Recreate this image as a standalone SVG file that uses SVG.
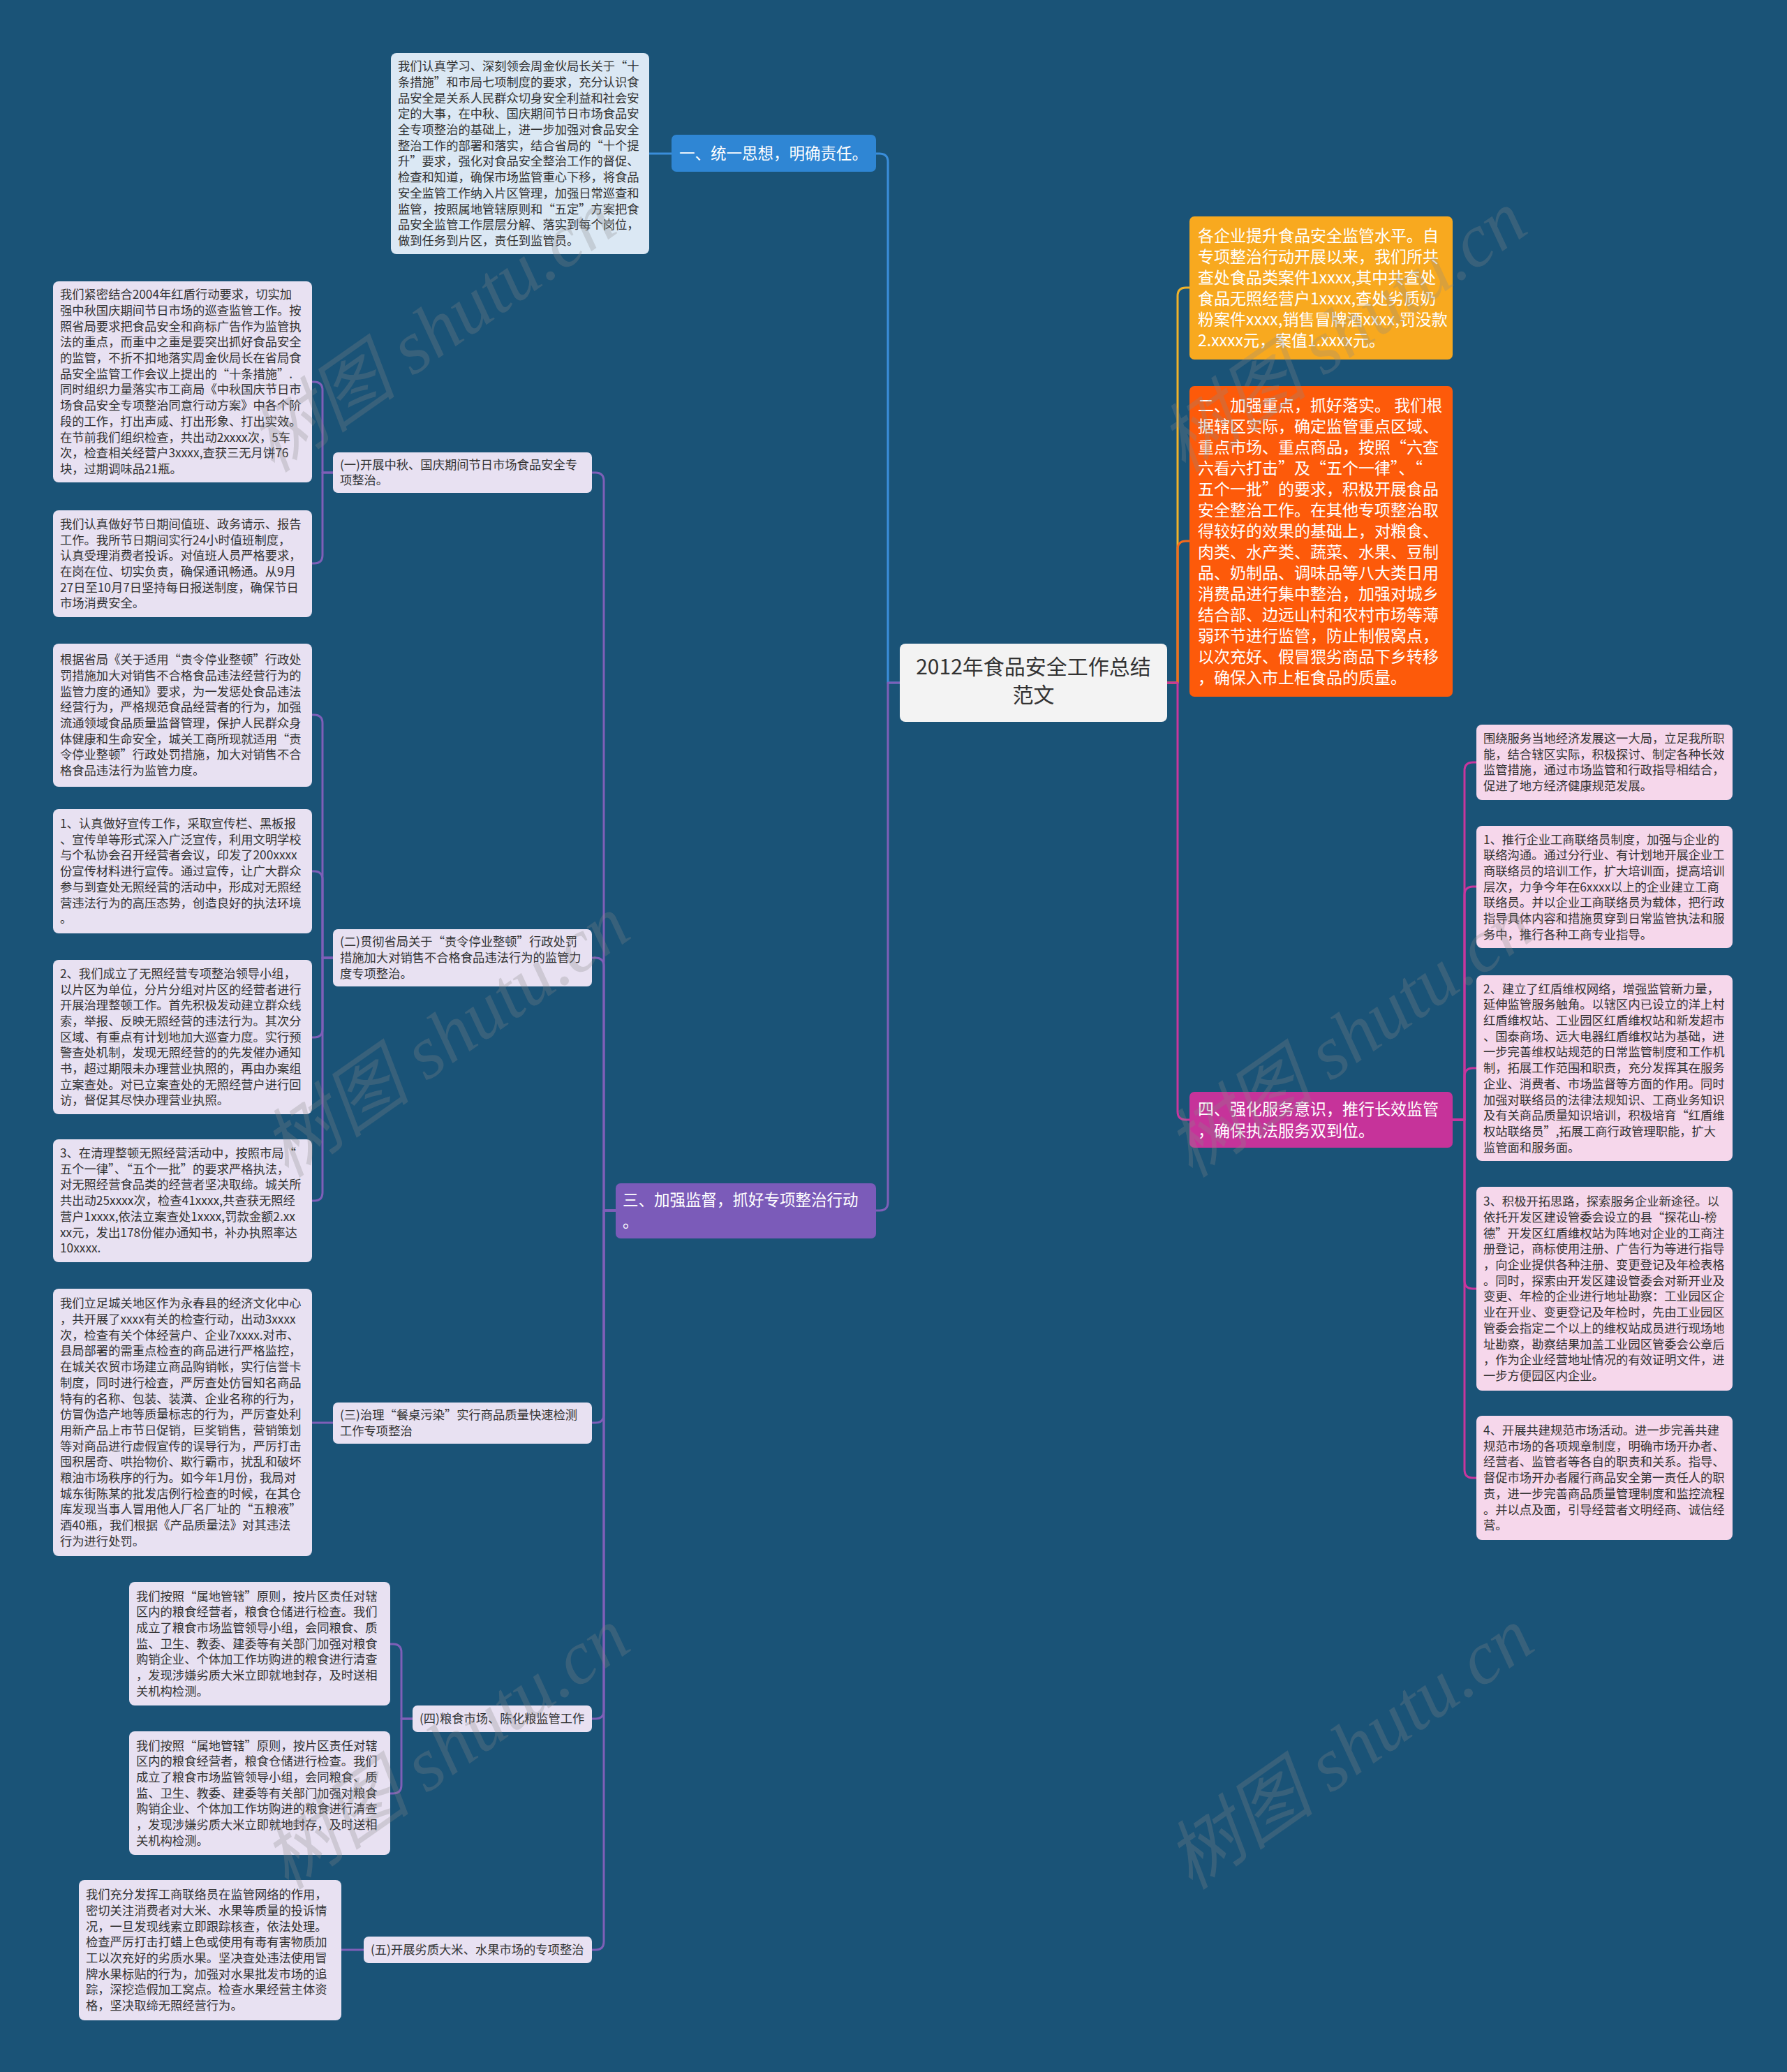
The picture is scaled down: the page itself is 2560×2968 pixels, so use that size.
<svg xmlns="http://www.w3.org/2000/svg" width="2560" height="2968" viewBox="0 0 2560 2968">
<style>
.t{font-family:"Noto Sans CJK SC","Noto Sans",sans-serif;}
.lf{font-size:17.3px;fill:#333333;}
.big{font-size:23px;fill:#ffffff;}
.mid{font-size:22.5px;fill:#ffffff;}
.root{font-size:30px;fill:#333333;}
.lav{fill:#e8e1f2;}
.pink{fill:#f6d7eb;}
.lblue{fill:#dbe8f4;}
.c{fill:none;stroke-width:3;stroke-linejoin:round;}
.cb{stroke:#3a8edb;}
.cp{stroke:#7e5fb8;}
.cy{stroke:#f0b22a;}
.co{stroke:#f66a1c;}
.cm{stroke:#c8369e;}
.wm{font-family:"Liberation Serif","Noto Sans CJK SC",serif;font-style:italic;font-size:108px;fill:#8a8a8a;fill-opacity:0.28;}
</style>
<rect x="0" y="0" width="2560" height="2968" fill="#1a5377"/>
<g id="connectors">
<path class="c cb" d="M1289,978 H1272 V232 Q1272,220 1260,220 H1255"/>
<path class="c cb" d="M962,220 H930"/>
<path class="c cp" d="M1289,978 H1272 V1722 Q1272,1734 1260,1734 H1255"/>
<path class="c cy" d="M1672,978 H1687 V424 Q1687,412 1699,412 H1704"/>
<path class="c co" d="M1672,978 H1687 V787 Q1687,775 1699,775 H1704"/>
<path class="c cm" d="M1672,978 H1687 V1592 Q1687,1604 1699,1604 H1704"/>
<path class="c cm" d="M2081,1604 H2098 V1104 Q2098,1092 2110,1092 H2115"/>
<path class="c cm" d="M2081,1604 H2098 V1282 Q2098,1270 2110,1270 H2115"/>
<path class="c cm" d="M2081,1604 H2098 V1542 Q2098,1530 2110,1530 H2115"/>
<path class="c cm" d="M2081,1604 H2098 V1834 Q2098,1846 2110,1846 H2115"/>
<path class="c cm" d="M2081,1604 H2098 V2105 Q2098,2117 2110,2117 H2115"/>
<path class="c cp" d="M882,1734 H865 V689 Q865,677 853,677 H848"/>
<path class="c cp" d="M882,1734 H865 V1384 Q865,1372 853,1372 H848"/>
<path class="c cp" d="M882,1734 H865 V2026 Q865,2038 853,2038 H848"/>
<path class="c cp" d="M882,1734 H865 V2450 Q865,2462 853,2462 H848"/>
<path class="c cp" d="M882,1734 H865 V2781 Q865,2793 853,2793 H848"/>
<path class="c cp" d="M477,677 H462 V559 Q462,547 450,547 H447"/>
<path class="c cp" d="M477,677 H462 V795 Q462,807 450,807 H447"/>
<path class="c cp" d="M477,1372 H462 V1036 Q462,1024 450,1024 H447"/>
<path class="c cp" d="M477,1372 H462 V1260 Q462,1248 450,1248 H447"/>
<path class="c cp" d="M477,1372 H462 V1474 Q462,1486 450,1486 H447"/>
<path class="c cp" d="M477,1372 H462 V1708 Q462,1720 450,1720 H447"/>
<path class="c cp" d="M477,2038 H447"/>
<path class="c cp" d="M591,2462 H575 V2367 Q575,2355 563,2355 H559"/>
<path class="c cp" d="M591,2462 H575 V2557 Q575,2569 563,2569 H559"/>
<path class="c cp" d="M521,2793 H489"/>
</g>
<g id="root">
<rect x="1289" y="922" width="383" height="112" rx="8" fill="#f3f3f3"/>
<text class="t root" text-anchor="middle"><tspan x="1480.5" y="966">2012年食品安全工作总结</tspan><tspan x="1480.5" y="1006">范文</tspan></text>
</g>
<g id="n1">
<rect x="962" y="193" width="293" height="53" rx="7" fill="#2f86d4"/>
<text class="t mid" x="973" y="227.5">一、统一思想，明确责任。</text>
</g>
<g id="n1-1">
<rect x="560" y="76" width="370" height="288" rx="8" class="lblue"/>
<text class="t lf"><tspan x="570" y="101.2">我们认真学习、深刻领会周金伙局长关于“十</tspan><tspan x="570" dy="22.7">条措施”和市局七项制度的要求，充分认识食</tspan><tspan x="570" dy="22.7">品安全是关系人民群众切身安全利益和社会安</tspan><tspan x="570" dy="22.7">定的大事，在中秋、国庆期间节日市场食品安</tspan><tspan x="570" dy="22.7">全专项整治的基础上，进一步加强对食品安全</tspan><tspan x="570" dy="22.7">整治工作的部署和落实，结合省局的“十个提</tspan><tspan x="570" dy="22.7">升”要求，强化对食品安全整治工作的督促、</tspan><tspan x="570" dy="22.7">检查和知道，确保市场监管重心下移，将食品</tspan><tspan x="570" dy="22.7">安全监管工作纳入片区管理，加强日常巡查和</tspan><tspan x="570" dy="22.7">监管，按照属地管辖原则和“五定”方案把食</tspan><tspan x="570" dy="22.7">品安全监管工作层层分解、落实到每个岗位，</tspan><tspan x="570" dy="22.7">做到任务到片区，责任到监管员。</tspan></text>
</g>
<g id="n2">
<rect x="1704" y="310" width="377" height="205" rx="7" fill="#f8a91f"/>
<text class="t big"><tspan x="1716" y="345.6">各企业提升食品安全监管水平。自</tspan><tspan x="1716" dy="30">专项整治行动开展以来，我们所共</tspan><tspan x="1716" dy="30">查处食品类案件1xxxx,其中共查处</tspan><tspan x="1716" dy="30">食品无照经营户1xxxx,查处劣质奶</tspan><tspan x="1716" dy="30">粉案件xxxx,销售冒牌酒xxxx,罚没款</tspan><tspan x="1716" dy="30">2.xxxx元，案值1.xxxx元。</tspan></text>
</g>
<g id="n3">
<rect x="1704" y="553" width="377" height="445" rx="7" fill="#fd5a0a"/>
<text class="t big"><tspan x="1716" y="588.6">二、加强重点，抓好落实。 我们根</tspan><tspan x="1716" dy="30">据辖区实际，确定监管重点区域、</tspan><tspan x="1716" dy="30">重点市场、重点商品，按照“六查</tspan><tspan x="1716" dy="30">六看六打击”及“五个一律”、“</tspan><tspan x="1716" dy="30">五个一批”的要求，积极开展食品</tspan><tspan x="1716" dy="30">安全整治工作。在其他专项整治取</tspan><tspan x="1716" dy="30">得较好的效果的基础上，对粮食、</tspan><tspan x="1716" dy="30">肉类、水产类、蔬菜、水果、豆制</tspan><tspan x="1716" dy="30">品、奶制品、调味品等八大类日用</tspan><tspan x="1716" dy="30">消费品进行集中整治，加强对城乡</tspan><tspan x="1716" dy="30">结合部、边远山村和农村市场等薄</tspan><tspan x="1716" dy="30">弱环节进行监管，防止制假窝点，</tspan><tspan x="1716" dy="30">以次充好、假冒猥劣商品下乡转移</tspan><tspan x="1716" dy="30">，确保入市上柜食品的质量。</tspan></text>
</g>
<g id="n4">
<rect x="1704" y="1564" width="377" height="80" rx="7" fill="#c6339a"/>
<text class="t big"><tspan x="1716" y="1596.5">四、强化服务意识，推行长效监管</tspan><tspan x="1716" dy="31">，确保执法服务双到位。</tspan></text>
</g>
<g id="n4-0">
<rect x="2115" y="1038" width="367" height="108" rx="8" class="pink"/>
<text class="t lf"><tspan x="2125" y="1064">围绕服务当地经济发展这一大局，立足我所职</tspan><tspan x="2125" dy="22.7">能，结合辖区实际，积极探讨、制定各种长效</tspan><tspan x="2125" dy="22.7">监管措施，通过市场监管和行政指导相结合，</tspan><tspan x="2125" dy="22.7">促进了地方经济健康规范发展。</tspan></text>
</g>
<g id="n4-1">
<rect x="2115" y="1183" width="367" height="175" rx="8" class="pink"/>
<text class="t lf"><tspan x="2125" y="1208.5">1、推行企业工商联络员制度，加强与企业的</tspan><tspan x="2125" dy="22.7">联络沟通。通过分行业、有计划地开展企业工</tspan><tspan x="2125" dy="22.7">商联络员的培训工作，扩大培训面，提高培训</tspan><tspan x="2125" dy="22.7">层次，力争今年在6xxxx以上的企业建立工商</tspan><tspan x="2125" dy="22.7">联络员。并以企业工商联络员为载体，把行政</tspan><tspan x="2125" dy="22.7">指导具体内容和措施贯穿到日常监管执法和服</tspan><tspan x="2125" dy="22.7">务中，推行各种工商专业指导。</tspan></text>
</g>
<g id="n4-2">
<rect x="2115" y="1397" width="367" height="266" rx="8" class="pink"/>
<text class="t lf"><tspan x="2125" y="1422.6">2、建立了红盾维权网络，增强监管新力量，</tspan><tspan x="2125" dy="22.7">延伸监管服务触角。以辖区内已设立的洋上村</tspan><tspan x="2125" dy="22.7">红盾维权站、工业园区红盾维权站和新发超市</tspan><tspan x="2125" dy="22.7">、国泰商场、远大电器红盾维权站为基础，进</tspan><tspan x="2125" dy="22.7">一步完善维权站规范的日常监管制度和工作机</tspan><tspan x="2125" dy="22.7">制，拓展工作范围和职责，充分发挥其在服务</tspan><tspan x="2125" dy="22.7">企业、消费者、市场监督等方面的作用。同时</tspan><tspan x="2125" dy="22.7">加强对联络员的法律法规知识、工商业务知识</tspan><tspan x="2125" dy="22.7">及有关商品质量知识培训，积极培育“红盾维</tspan><tspan x="2125" dy="22.7">权站联络员”,拓展工商行政管理职能，扩大</tspan><tspan x="2125" dy="22.7">监管面和服务面。</tspan></text>
</g>
<g id="n4-3">
<rect x="2115" y="1700" width="367" height="292" rx="8" class="pink"/>
<text class="t lf"><tspan x="2125" y="1727.2">3、积极开拓思路，探索服务企业新途径。以</tspan><tspan x="2125" dy="22.7">依托开发区建设管委会设立的县“探花山-榜</tspan><tspan x="2125" dy="22.7">德”开发区红盾维权站为阵地对企业的工商注</tspan><tspan x="2125" dy="22.7">册登记，商标使用注册、广告行为等进行指导</tspan><tspan x="2125" dy="22.7">，向企业提供各种注册、变更登记及年检表格</tspan><tspan x="2125" dy="22.7">。同时，探索由开发区建设管委会对新开业及</tspan><tspan x="2125" dy="22.7">变更、年检的企业进行地址勘察：工业园区企</tspan><tspan x="2125" dy="22.7">业在开业、变更登记及年检时，先由工业园区</tspan><tspan x="2125" dy="22.7">管委会指定二个以上的维权站成员进行现场地</tspan><tspan x="2125" dy="22.7">址勘察，勘察结果加盖工业园区管委会公章后</tspan><tspan x="2125" dy="22.7">，作为企业经营地址情况的有效证明文件，进</tspan><tspan x="2125" dy="22.7">一步方便园区内企业。</tspan></text>
</g>
<g id="n4-4">
<rect x="2115" y="2028" width="367" height="178" rx="8" class="pink"/>
<text class="t lf"><tspan x="2125" y="2055">4、开展共建规范市场活动。进一步完善共建</tspan><tspan x="2125" dy="22.7">规范市场的各项规章制度，明确市场开办者、</tspan><tspan x="2125" dy="22.7">经营者、监管者等各自的职责和关系。指导、</tspan><tspan x="2125" dy="22.7">督促市场开办者履行商品安全第一责任人的职</tspan><tspan x="2125" dy="22.7">责，进一步完善商品质量管理制度和监控流程</tspan><tspan x="2125" dy="22.7">。并以点及面，引导经营者文明经商、诚信经</tspan><tspan x="2125" dy="22.7">营。</tspan></text>
</g>
<g id="n5">
<rect x="882" y="1695" width="373" height="79" rx="7" fill="#7b5bb9"/>
<text class="t mid"><tspan x="892" y="1727">三、加强监督，抓好专项整治行动</tspan><tspan x="892" dy="31">。</tspan></text>
</g>
<g id="s1">
<rect x="477" y="648" width="371" height="58" rx="7" class="lav"/>
<text class="t lf"><tspan x="487" y="671.7">(一)开展中秋、国庆期间节日市场食品安全专</tspan><tspan x="487" dy="22.7">项整治。</tspan></text>
</g>
<g id="s1-1">
<rect x="76" y="403" width="371" height="288" rx="8" class="lav"/>
<text class="t lf"><tspan x="86" y="428.2">我们紧密结合2004年红盾行动要求，切实加</tspan><tspan x="86" dy="22.7">强中秋国庆期间节日市场的巡查监管工作。按</tspan><tspan x="86" dy="22.7">照省局要求把食品安全和商标广告作为监管执</tspan><tspan x="86" dy="22.7">法的重点，而重中之重是要突出抓好食品安全</tspan><tspan x="86" dy="22.7">的监管，不折不扣地落实周金伙局长在省局食</tspan><tspan x="86" dy="22.7">品安全监管工作会议上提出的“十条措施”.</tspan><tspan x="86" dy="22.7">同时组织力量落实市工商局《中秋国庆节日市</tspan><tspan x="86" dy="22.7">场食品安全专项整治同意行动方案》中各个阶</tspan><tspan x="86" dy="22.7">段的工作，打出声威、打出形象、打出实效。</tspan><tspan x="86" dy="22.7">在节前我们组织检查，共出动2xxxx次，5车</tspan><tspan x="86" dy="22.7">次，检查相关经营户3xxxx,查获三无月饼76</tspan><tspan x="86" dy="22.7">块，过期调味品21瓶。</tspan></text>
</g>
<g id="s1-2">
<rect x="76" y="731" width="371" height="153" rx="8" class="lav"/>
<text class="t lf"><tspan x="86" y="756.8">我们认真做好节日期间值班、政务请示、报告</tspan><tspan x="86" dy="22.7">工作。我所节日期间实行24小时值班制度，</tspan><tspan x="86" dy="22.7">认真受理消费者投诉。对值班人员严格要求，</tspan><tspan x="86" dy="22.7">在岗在位、切实负责，确保通讯畅通。从9月</tspan><tspan x="86" dy="22.7">27日至10月7日坚持每日报送制度，确保节日</tspan><tspan x="86" dy="22.7">市场消费安全。</tspan></text>
</g>
<g id="s2">
<rect x="477" y="1331" width="371" height="82" rx="7" class="lav"/>
<text class="t lf"><tspan x="487" y="1355.4">(二)贯彻省局关于“责令停业整顿”行政处罚</tspan><tspan x="487" dy="22.7">措施加大对销售不合格食品违法行为的监管力</tspan><tspan x="487" dy="22.7">度专项整治。</tspan></text>
</g>
<g id="s2-1">
<rect x="76" y="922" width="371" height="205" rx="8" class="lav"/>
<text class="t lf"><tspan x="86" y="951.1">根据省局《关于适用“责令停业整顿”行政处</tspan><tspan x="86" dy="22.7">罚措施加大对销售不合格食品违法经营行为的</tspan><tspan x="86" dy="22.7">监管力度的通知》要求，为一发惩处食品违法</tspan><tspan x="86" dy="22.7">经营行为，严格规范食品经营者的行为，加强</tspan><tspan x="86" dy="22.7">流通领域食品质量监督管理，保护人民群众身</tspan><tspan x="86" dy="22.7">体健康和生命安全，城关工商所现就适用“责</tspan><tspan x="86" dy="22.7">令停业整顿”行政处罚措施，加大对销售不合</tspan><tspan x="86" dy="22.7">格食品违法行为监管力度。</tspan></text>
</g>
<g id="s2-2">
<rect x="76" y="1159" width="371" height="178" rx="8" class="lav"/>
<text class="t lf"><tspan x="86" y="1186">1、认真做好宣传工作，采取宣传栏、黑板报</tspan><tspan x="86" dy="22.7">、宣传单等形式深入广泛宣传，利用文明学校</tspan><tspan x="86" dy="22.7">与个私协会召开经营者会议，印发了200xxxx</tspan><tspan x="86" dy="22.7">份宣传材料进行宣传。通过宣传，让广大群众</tspan><tspan x="86" dy="22.7">参与到查处无照经营的活动中，形成对无照经</tspan><tspan x="86" dy="22.7">营违法行为的高压态势，创造良好的执法环境</tspan><tspan x="86" dy="22.7">。</tspan></text>
</g>
<g id="s2-3">
<rect x="76" y="1375" width="371" height="221" rx="8" class="lav"/>
<text class="t lf"><tspan x="86" y="1400.8">2、我们成立了无照经营专项整治领导小组，</tspan><tspan x="86" dy="22.7">以片区为单位，分片分组对片区的经营者进行</tspan><tspan x="86" dy="22.7">开展治理整顿工作。首先积极发动建立群众线</tspan><tspan x="86" dy="22.7">索，举报、反映无照经营的违法行为。其次分</tspan><tspan x="86" dy="22.7">区域、有重点有计划地加大巡查力度。实行预</tspan><tspan x="86" dy="22.7">警查处机制，发现无照经营的的先发催办通知</tspan><tspan x="86" dy="22.7">书，超过期限未办理营业执照的，再由办案组</tspan><tspan x="86" dy="22.7">立案查处。对已立案查处的无照经营户进行回</tspan><tspan x="86" dy="22.7">访，督促其尽快办理营业执照。</tspan></text>
</g>
<g id="s2-4">
<rect x="76" y="1632" width="371" height="176" rx="8" class="lav"/>
<text class="t lf"><tspan x="86" y="1658">3、在清理整顿无照经营活动中，按照市局“</tspan><tspan x="86" dy="22.7">五个一律”、“五个一批”的要求严格执法，</tspan><tspan x="86" dy="22.7">对无照经营食品类的经营者坚决取缔。城关所</tspan><tspan x="86" dy="22.7">共出动25xxxx次，检查41xxxx,共查获无照经</tspan><tspan x="86" dy="22.7">营户1xxxx,依法立案查处1xxxx,罚款金额2.xx</tspan><tspan x="86" dy="22.7">xx元，发出178份催办通知书，补办执照率达</tspan><tspan x="86" dy="22.7">10xxxx.</tspan></text>
</g>
<g id="s3">
<rect x="477" y="2009" width="371" height="59" rx="7" class="lav"/>
<text class="t lf"><tspan x="487" y="2033.2">(三)治理“餐桌污染”实行商品质量快速检测</tspan><tspan x="487" dy="22.7">工作专项整治</tspan></text>
</g>
<g id="s3-1">
<rect x="76" y="1846" width="371" height="383" rx="8" class="lav"/>
<text class="t lf"><tspan x="86" y="1873.3">我们立足城关地区作为永春县的经济文化中心</tspan><tspan x="86" dy="22.7">，共开展了xxxx有关的检查行动，出动3xxxx</tspan><tspan x="86" dy="22.7">次，检查有关个体经营户、企业7xxxx.对市、</tspan><tspan x="86" dy="22.7">县局部署的需重点检查的商品进行严格监控，</tspan><tspan x="86" dy="22.7">在城关农贸市场建立商品购销帐，实行信誉卡</tspan><tspan x="86" dy="22.7">制度，同时进行检查，严厉查处仿冒知名商品</tspan><tspan x="86" dy="22.7">特有的名称、包装、装潢、企业名称的行为，</tspan><tspan x="86" dy="22.7">仿冒伪造产地等质量标志的行为，严厉查处利</tspan><tspan x="86" dy="22.7">用新产品上市节日促销，巨奖销售，营销策划</tspan><tspan x="86" dy="22.7">等对商品进行虚假宣传的误导行为，严厉打击</tspan><tspan x="86" dy="22.7">囤积居奇、哄抬物价、欺行霸市，扰乱和破坏</tspan><tspan x="86" dy="22.7">粮油市场秩序的行为。如今年1月份，我局对</tspan><tspan x="86" dy="22.7">城东街陈某的批发店例行检查的时候，在其仓</tspan><tspan x="86" dy="22.7">库发现当事人冒用他人厂名厂址的“五粮液”</tspan><tspan x="86" dy="22.7">酒40瓶，我们根据《产品质量法》对其违法</tspan><tspan x="86" dy="22.7">行为进行处罚。</tspan></text>
</g>
<g id="s4">
<rect x="591" y="2443" width="257" height="38" rx="7" class="lav"/>
<text class="t lf" x="601" y="2468">(四)粮食市场、陈化粮监管工作</text>
</g>
<g id="s4-1">
<rect x="185" y="2266" width="374" height="177" rx="8" class="lav"/>
<text class="t lf"><tspan x="195" y="2292.5">我们按照“属地管辖”原则，按片区责任对辖</tspan><tspan x="195" dy="22.7">区内的粮食经营者，粮食仓储进行检查。我们</tspan><tspan x="195" dy="22.7">成立了粮食市场监管领导小组，会同粮食、质</tspan><tspan x="195" dy="22.7">监、卫生、教委、建委等有关部门加强对粮食</tspan><tspan x="195" dy="22.7">购销企业、个体加工作坊购进的粮食进行清查</tspan><tspan x="195" dy="22.7">，发现涉嫌劣质大米立即就地封存，及时送相</tspan><tspan x="195" dy="22.7">关机构检测。</tspan></text>
</g>
<g id="s4-2">
<rect x="185" y="2480" width="374" height="177" rx="8" class="lav"/>
<text class="t lf"><tspan x="195" y="2506.5">我们按照“属地管辖”原则，按片区责任对辖</tspan><tspan x="195" dy="22.7">区内的粮食经营者，粮食仓储进行检查。我们</tspan><tspan x="195" dy="22.7">成立了粮食市场监管领导小组，会同粮食、质</tspan><tspan x="195" dy="22.7">监、卫生、教委、建委等有关部门加强对粮食</tspan><tspan x="195" dy="22.7">购销企业、个体加工作坊购进的粮食进行清查</tspan><tspan x="195" dy="22.7">，发现涉嫌劣质大米立即就地封存，及时送相</tspan><tspan x="195" dy="22.7">关机构检测。</tspan></text>
</g>
<g id="s5">
<rect x="521" y="2774" width="327" height="38" rx="7" class="lav"/>
<text class="t lf" x="531" y="2799.1">(五)开展劣质大米、水果市场的专项整治</text>
</g>
<g id="s5-1">
<rect x="113" y="2693" width="376" height="201" rx="8" class="lav"/>
<text class="t lf"><tspan x="123" y="2720.1">我们充分发挥工商联络员在监管网络的作用，</tspan><tspan x="123" dy="22.7">密切关注消费者对大米、水果等质量的投诉情</tspan><tspan x="123" dy="22.7">况，一旦发现线索立即跟踪核查，依法处理。</tspan><tspan x="123" dy="22.7">检查严厉打击打蜡上色或使用有毒有害物质加</tspan><tspan x="123" dy="22.7">工以次充好的劣质水果。坚决查处违法使用冒</tspan><tspan x="123" dy="22.7">牌水果标贴的行为，加强对水果批发市场的追</tspan><tspan x="123" dy="22.7">踪，深挖造假加工窝点。检查水果经营主体资</tspan><tspan x="123" dy="22.7">格，坚决取缔无照经营行为。</tspan></text>
</g>
<g id="watermark">
<text class="wm" text-anchor="middle" transform="translate(640,505) rotate(-35)">树图 shutu.cn</text>
<text class="wm" text-anchor="middle" transform="translate(1945,505) rotate(-35)">树图 shutu.cn</text>
<text class="wm" text-anchor="middle" transform="translate(660,1515) rotate(-35)">树图 shutu.cn</text>
<text class="wm" text-anchor="middle" transform="translate(1955,1515) rotate(-35)">树图 shutu.cn</text>
<text class="wm" text-anchor="middle" transform="translate(660,2535) rotate(-35)">树图 shutu.cn</text>
<text class="wm" text-anchor="middle" transform="translate(1955,2535) rotate(-35)">树图 shutu.cn</text>
</g>
</svg>
